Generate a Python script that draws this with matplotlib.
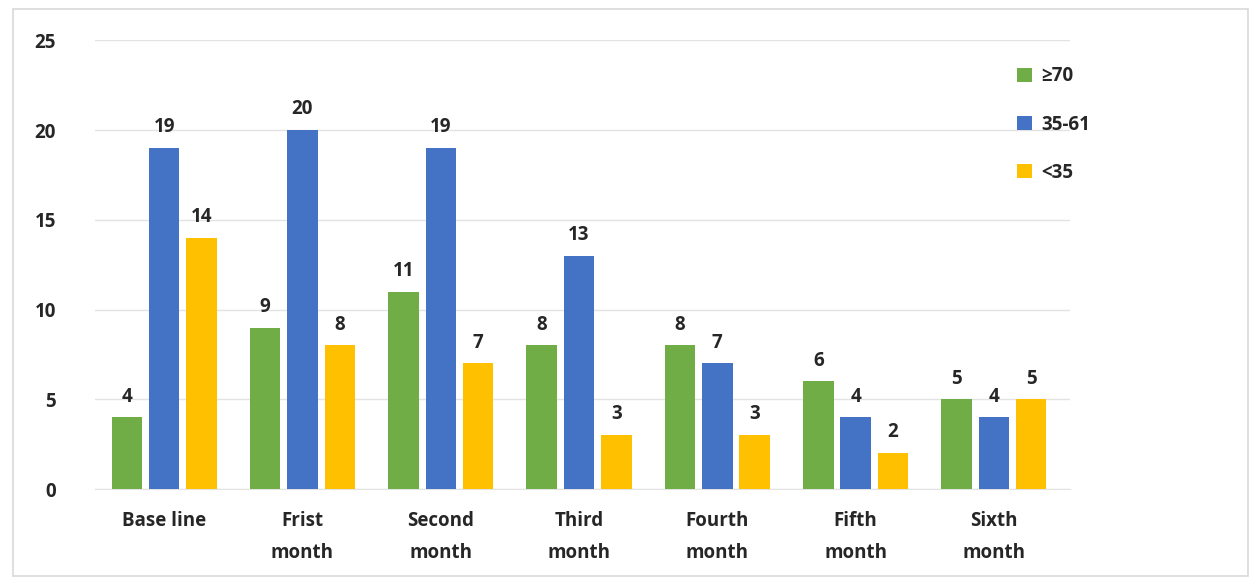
import matplotlib.pyplot as plt
import numpy as np
from matplotlib.patches import Rectangle

categories = ["Base line", "Frist\nmonth", "Second\nmonth", "Third\nmonth",
              "Fourth\nmonth", "Fifth\nmonth", "Sixth\nmonth"]
series_names = ["\u226570", "35-61", "<35"]
green_vals = [4, 9, 11, 8, 8, 6, 5]
blue_vals = [19, 20, 19, 13, 7, 4, 4]
yellow_vals = [14, 8, 7, 3, 3, 2, 5]
colors = ["#70AD47", "#4472C4", "#FFC000"]
y_ticks = [0, 5, 10, 15, 20, 25]

plt.rcParams['font.family'] = ['Open Sans', 'DejaVu Sans']
plt.rcParams['font.weight'] = 'bold'
text_col = "#262626"

fig = plt.figure(figsize=(12.5, 5.83), dpi=100)
ax = fig.add_axes([0.076, 0.161, 0.78, 0.77])

x = np.arange(len(categories))
width = 0.22
offset = 0.27
for i, (vals, name, col) in enumerate(zip([green_vals, blue_vals, yellow_vals], series_names, colors)):
    bars = ax.bar(x + (i - 1) * offset, vals, width, color=col, label=name, zorder=3)
    for b, v in zip(bars, vals):
        ax.text(b.get_x() + b.get_width() / 2, v + 0.6, str(v), ha='center', va='bottom',
                fontsize=13.5, fontweight='bold', color=text_col)

ax.set_ylim(0, 25)
ax.set_xlim(-0.5, 6.55)
ax.set_yticks(y_ticks)
ax.set_xticks(x)
ax.set_xticklabels(categories, fontsize=13.5, fontweight='bold', color=text_col, linespacing=1.75)
ax.tick_params(axis='y', labelsize=13.5, colors=text_col, length=0, pad=28)
ax.tick_params(axis='x', length=0, pad=16)
for lbl in ax.get_yticklabels():
    lbl.set_fontweight('bold')
ax.grid(axis='y', color='#E3E3E3', linewidth=1, zorder=0)
for s in ['top', 'right', 'left']:
    ax.spines[s].set_visible(False)
ax.spines['bottom'].set_color('#E3E3E3')

leg = fig.legend(loc='upper left', bbox_to_anchor=(0.8, 0.915), frameon=False,
                 fontsize=13.5, labelspacing=1.5, handlelength=0.8, handleheight=0.8,
                 handletextpad=0.5)
for t in leg.get_texts():
    t.set_color(text_col)

fig.patches.append(Rectangle((0.01, 0.012), 0.988, 0.972, transform=fig.transFigure,
                             fill=False, edgecolor='#D9D9D9', linewidth=1.2))

fig.savefig("out.png", dpi=100, facecolor='white')
